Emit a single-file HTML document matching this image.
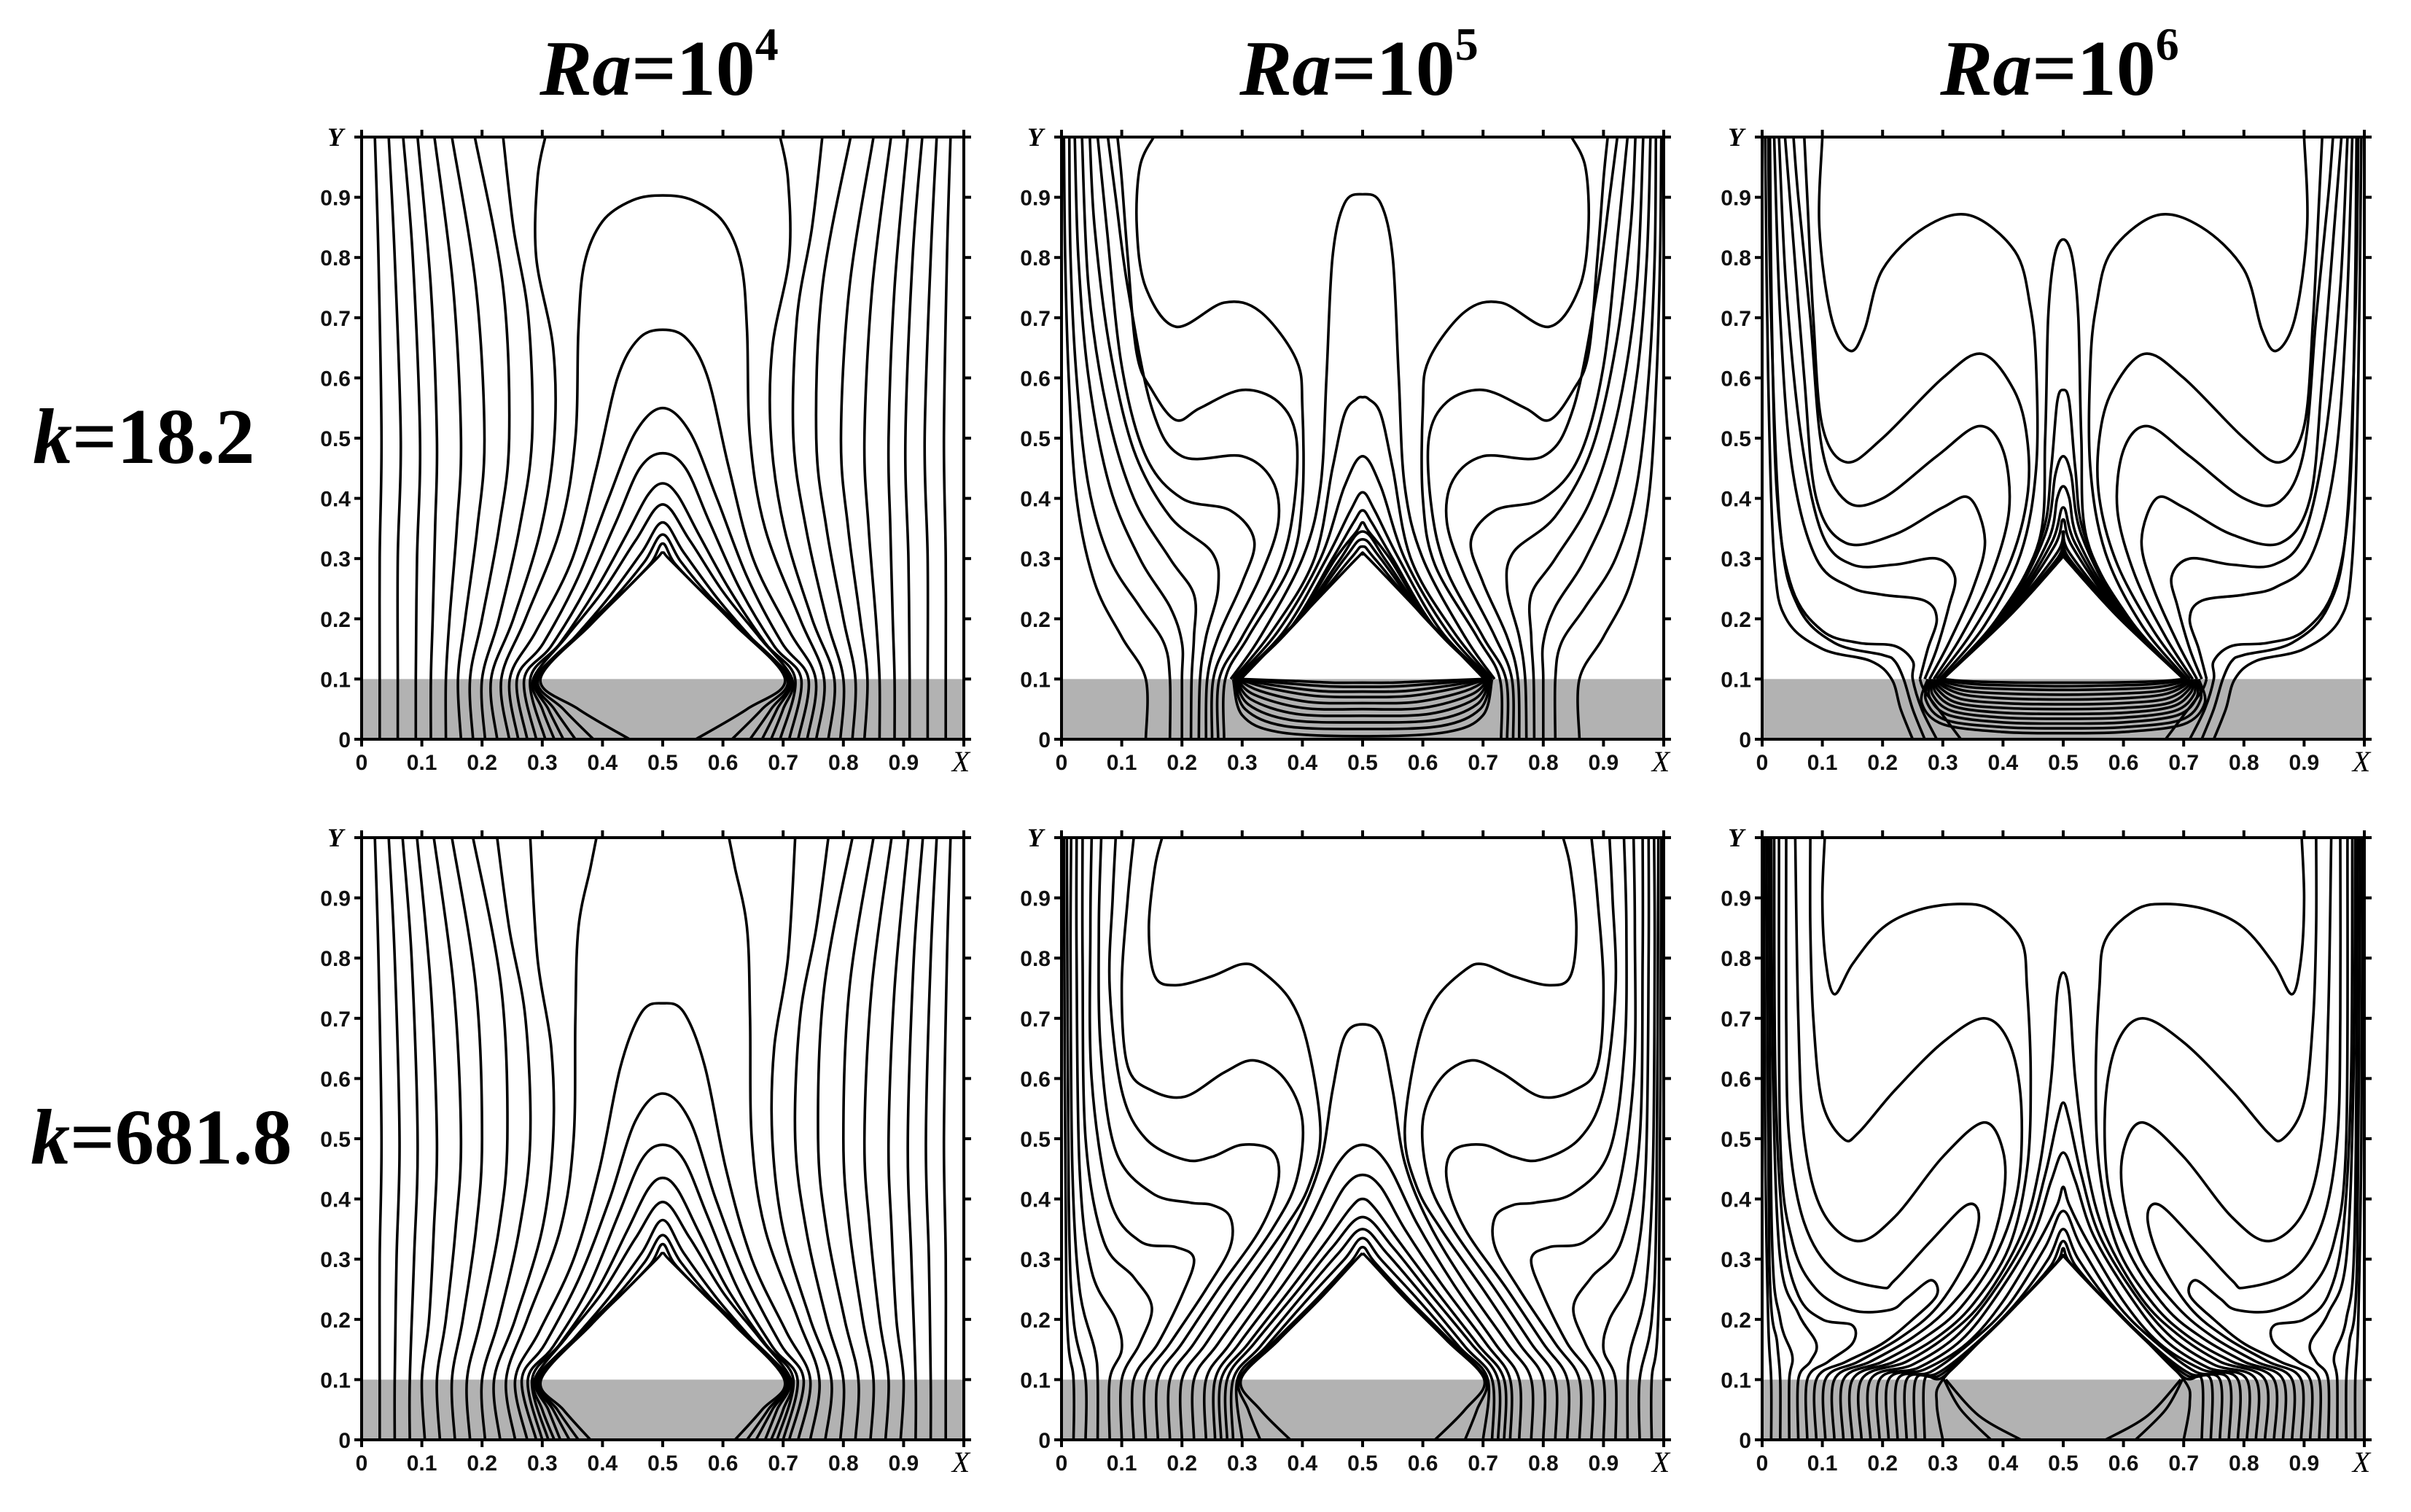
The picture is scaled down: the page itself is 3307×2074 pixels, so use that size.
<!DOCTYPE html>
<html><head><meta charset="utf-8"><title>Isotherm contours</title>
<style>html,body{margin:0;padding:0;background:#fff}svg{display:block}</style></head>
<body>
<svg id="fig" xmlns="http://www.w3.org/2000/svg" width="3307" height="2074" viewBox="0 0 3307 2074">
<rect width="3307" height="2074" fill="#fff"/>
<g font-family="Liberation Serif, serif" font-weight="bold" fill="#000">
<text x="904" y="130" font-size="108" text-anchor="middle"><tspan font-style="italic">Ra</tspan>=10<tspan font-size="64" dy="-48">4</tspan></text>
<text x="1864" y="130" font-size="108" text-anchor="middle"><tspan font-style="italic">Ra</tspan>=10<tspan font-size="64" dy="-48">5</tspan></text>
<text x="2825" y="130" font-size="108" text-anchor="middle"><tspan font-style="italic">Ra</tspan>=10<tspan font-size="64" dy="-48">6</tspan></text>
<text x="45" y="635" font-size="108"><tspan font-style="italic">k</tspan>=18.2</text>
<text x="42" y="1596" font-size="108"><tspan font-style="italic">k</tspan>=681.8</text>
</g>
<g id="panels"></g>
</svg>
<script>
// ---- data (left half of each symmetric field, data coords x,y in [0,1]) ----
const tickVals = [0,0.1,0.2,0.3,0.4,0.5,0.6,0.7,0.8,0.9];
const tickLabels = ["0","0.1","0.2","0.3","0.4","0.5","0.6","0.7","0.8","0.9"];
const solidTop = 0.1;

// Panel A: Ra=1e4, k=18.2
const sideA = [
[[0.03,0],[0.03,0.1],[0.03,0.3],[0.033,0.5],[0.028,0.8],[0.022,1]],
[[0.06,0],[0.06,0.1],[0.06,0.3],[0.065,0.5],[0.055,0.8],[0.045,1]],
[[0.09,0],[0.09,0.1],[0.092,0.3],[0.097,0.5],[0.085,0.8],[0.069,1]],
[[0.115,0],[0.115,0.1],[0.118,0.2],[0.122,0.35],[0.125,0.5],[0.115,0.75],[0.093,1]],
[[0.14,0],[0.14,0.1],[0.146,0.2],[0.158,0.35],[0.165,0.5],[0.152,0.75],[0.121,1]],
[[0.165,0],[0.16,0.1],[0.172,0.2],[0.192,0.35],[0.204,0.5],[0.19,0.75],[0.15,1]],
[[0.185,0],[0.18,0.1],[0.2,0.2],[0.228,0.35],[0.245,0.5],[0.235,0.75],[0.188,1]],
[[0.205,0],[0.2,0.1],[0.228,0.2],[0.262,0.35],[0.283,0.5],[0.277,0.7],[0.252,0.85],[0.235,1]],
[[0.225,0],[0.215,0.1],[0.252,0.2],[0.298,0.35],[0.32,0.5],[0.318,0.65],[0.29,0.8],[0.292,0.93],[0.305,1]]
];
const archA = [
[[0.245,0],[0.232,0.1],[0.272,0.2],[0.33,0.35],[0.355,0.5],[0.36,0.68],[0.37,0.79],[0.4,0.86],[0.45,0.895],[0.5,0.903]],
[[0.26,0],[0.246,0.1],[0.29,0.18],[0.35,0.3],[0.39,0.45],[0.425,0.6],[0.46,0.665],[0.5,0.68]],
[[0.275,0],[0.258,0.1],[0.302,0.16],[0.36,0.27],[0.41,0.4],[0.455,0.51],[0.5,0.55]],
[[0.29,0],[0.27,0.1],[0.315,0.155],[0.372,0.25],[0.422,0.36],[0.462,0.45],[0.5,0.475]],
[[0.305,0],[0.28,0.1],[0.33,0.16],[0.39,0.25],[0.44,0.34],[0.475,0.405],[0.5,0.425]],
[[0.32,0],[0.3,0.05],[0.285,0.1],[0.34,0.17],[0.4,0.245],[0.455,0.33],[0.5,0.39]],
[[0.335,0],[0.31,0.05],[0.288,0.1],[0.35,0.165],[0.41,0.235],[0.465,0.31],[0.5,0.36]],
[[0.355,0],[0.32,0.05],[0.29,0.1],[0.36,0.175],[0.42,0.235],[0.47,0.295],[0.5,0.34]],
[[0.385,0],[0.335,0.05],[0.293,0.1],[0.37,0.183],[0.43,0.24],[0.48,0.292],[0.5,0.325]],
[[0.445,0],[0.36,0.05],[0.297,0.1],[0.38,0.19],[0.44,0.25],[0.49,0.3],[0.5,0.31]]
];

// Panel B: Ra=1e5, k=18.2
const sideB = [
[[0.14,0],[0.14,0.1],[0.1,0.17],[0.055,0.26],[0.025,0.4],[0.012,0.6],[0.006,0.8],[0.004,1]],
[[0.18,0],[0.18,0.1],[0.17,0.16],[0.13,0.22],[0.08,0.3],[0.045,0.42],[0.025,0.6],[0.015,0.8],[0.013,1]],
[[0.2,0],[0.2,0.1],[0.2,0.16],[0.18,0.22],[0.13,0.3],[0.08,0.42],[0.045,0.6],[0.028,0.8],[0.022,1]],
[[0.215,0],[0.216,0.1],[0.22,0.17],[0.22,0.24],[0.18,0.3],[0.12,0.4],[0.075,0.55],[0.045,0.75],[0.034,1]],
[[0.228,0],[0.23,0.1],[0.24,0.17],[0.26,0.25],[0.25,0.31],[0.18,0.37],[0.12,0.48],[0.08,0.65],[0.055,0.85],[0.047,1]],
[[0.24,0],[0.242,0.1],[0.26,0.17],[0.3,0.26],[0.32,0.33],[0.28,0.38],[0.2,0.4],[0.14,0.47],[0.1,0.62],[0.075,0.85],[0.06,1]],
[[0.25,0],[0.252,0.1],[0.28,0.17],[0.33,0.27],[0.36,0.36],[0.35,0.43],[0.3,0.47],[0.2,0.47],[0.15,0.55],[0.11,0.75],[0.09,0.9],[0.077,1]],
[[0.26,0],[0.262,0.1],[0.3,0.17],[0.36,0.28],[0.385,0.38],[0.39,0.5],[0.36,0.56],[0.3,0.58],[0.23,0.55],[0.19,0.53],[0.15,0.58],[0.125,0.64],[0.11,0.8],[0.1,0.93],[0.093,1]],
[[0.27,0],[0.272,0.1],[0.31,0.17],[0.38,0.29],[0.4,0.4],[0.4,0.55],[0.39,0.63],[0.33,0.71],[0.27,0.725],[0.19,0.685],[0.14,0.75],[0.125,0.85],[0.13,0.95],[0.153,1]]
];
const archB = [
[[0.281,0.1],[0.33,0.17],[0.4,0.3],[0.43,0.42],[0.44,0.6],[0.45,0.8],[0.47,0.89],[0.5,0.905]],
[[0.285,0.1],[0.35,0.18],[0.42,0.3],[0.45,0.45],[0.47,0.54],[0.49,0.565],[0.5,0.568]],
[[0.288,0.1],[0.36,0.18],[0.43,0.3],[0.47,0.42],[0.5,0.47]],
[[0.29,0.1],[0.37,0.18],[0.44,0.3],[0.48,0.38],[0.5,0.41]],
[[0.291,0.1],[0.38,0.185],[0.45,0.3],[0.485,0.36],[0.5,0.38]],
[[0.292,0.1],[0.385,0.19],[0.455,0.3],[0.49,0.345],[0.5,0.36]],
[[0.293,0.1],[0.39,0.195],[0.46,0.295],[0.5,0.345]],
[[0.294,0.1],[0.395,0.2],[0.47,0.3],[0.5,0.332]],
[[0.296,0.1],[0.4,0.205],[0.48,0.3],[0.5,0.32]],
[[0.298,0.1],[0.4,0.206],[0.49,0.3],[0.5,0.307]],
[[0.285,0.1],[0.3,0.04],[0.36,0.012],[0.5,0.005]],
[[0.287,0.1],[0.305,0.05],[0.37,0.022],[0.5,0.017]],
[[0.289,0.1],[0.31,0.058],[0.38,0.032],[0.5,0.028]],
[[0.29,0.1],[0.315,0.066],[0.39,0.042],[0.5,0.039]],
[[0.291,0.1],[0.32,0.074],[0.4,0.052],[0.5,0.05]],
[[0.292,0.1],[0.33,0.08],[0.41,0.062],[0.5,0.06]],
[[0.294,0.1],[0.34,0.086],[0.42,0.072],[0.5,0.07]],
[[0.296,0.1],[0.35,0.09],[0.43,0.08],[0.5,0.079]],
[[0.298,0.1],[0.36,0.094],[0.44,0.088],[0.5,0.087]],
[[0.3,0.1],[0.38,0.097],[0.45,0.094],[0.5,0.094]]
];

// Panel C: Ra=1e6, k=18.2
const sideC = [
[[0.25,0],[0.23,0.05],[0.215,0.1],[0.18,0.13],[0.1,0.15],[0.04,0.2],[0.02,0.3],[0.01,0.6],[0.005,1]],
[[0.27,0],[0.25,0.05],[0.235,0.1],[0.22,0.13],[0.2,0.14],[0.12,0.16],[0.06,0.22],[0.03,0.35],[0.015,0.7],[0.01,1]],
[[0.29,0],[0.265,0.05],[0.25,0.1],[0.25,0.13],[0.22,0.155],[0.16,0.16],[0.1,0.18],[0.05,0.25],[0.025,0.4],[0.016,0.7],[0.013,1]],
[[0.262,0.1],[0.275,0.15],[0.29,0.2],[0.27,0.23],[0.2,0.24],[0.146,0.253],[0.09,0.3],[0.05,0.45],[0.03,0.7],[0.02,1]],
[[0.27,0.1],[0.29,0.15],[0.31,0.22],[0.32,0.27],[0.29,0.3],[0.22,0.29],[0.15,0.29],[0.1,0.34],[0.065,0.5],[0.04,0.75],[0.028,1]],
[[0.278,0.1],[0.31,0.16],[0.35,0.25],[0.37,0.33],[0.345,0.4],[0.3,0.385],[0.22,0.34],[0.139,0.326],[0.09,0.4],[0.07,0.6],[0.05,0.85],[0.038,1]],
[[0.285,0.1],[0.33,0.17],[0.38,0.27],[0.41,0.38],[0.4,0.48],[0.36,0.52],[0.29,0.47],[0.2,0.4],[0.14,0.395],[0.1,0.48],[0.08,0.7],[0.06,0.9],[0.052,1]],
[[0.29,0.1],[0.35,0.18],[0.41,0.29],[0.44,0.4],[0.44,0.5],[0.418,0.58],[0.365,0.64],[0.3,0.6],[0.2,0.5],[0.14,0.46],[0.1,0.52],[0.085,0.7],[0.075,0.9],[0.07,1]],
[[0.295,0.1],[0.37,0.19],[0.43,0.31],[0.455,0.45],[0.455,0.62],[0.445,0.72],[0.42,0.81],[0.345,0.87],[0.27,0.85],[0.2,0.78],[0.17,0.68],[0.146,0.645],[0.115,0.7],[0.095,0.85],[0.1,1]],
[[0.33,0],[0.3,0.04],[0.27,0.08],[0.262,0.1]]
];
const archC = [
[[0.3,0.1],[0.39,0.2],[0.46,0.33],[0.47,0.5],[0.475,0.7],[0.485,0.8],[0.5,0.83]],
[[0.3,0.1],[0.4,0.21],[0.465,0.34],[0.48,0.45],[0.49,0.56],[0.5,0.58]],
[[0.3,0.1],[0.405,0.215],[0.47,0.34],[0.487,0.44],[0.5,0.47]],
[[0.3,0.1],[0.41,0.22],[0.475,0.33],[0.49,0.4],[0.5,0.42]],
[[0.3,0.1],[0.41,0.215],[0.48,0.325],[0.5,0.385]],
[[0.3,0.1],[0.41,0.212],[0.485,0.32],[0.5,0.365]],
[[0.3,0.1],[0.41,0.21],[0.49,0.31],[0.5,0.345]],
[[0.3,0.1],[0.41,0.208],[0.49,0.3],[0.5,0.33]],
[[0.3,0.1],[0.41,0.206],[0.49,0.296],[0.5,0.318]],
[[0.3,0.1],[0.41,0.204],[0.495,0.298],[0.5,0.306]],
[[0.275,0.1],[0.265,0.06],[0.3,0.025],[0.4,0.012],[0.5,0.01]],
[[0.278,0.1],[0.272,0.065],[0.305,0.032],[0.4,0.02],[0.5,0.018]],
[[0.281,0.1],[0.278,0.07],[0.31,0.04],[0.4,0.028],[0.5,0.026]],
[[0.284,0.1],[0.283,0.074],[0.315,0.047],[0.4,0.036],[0.5,0.034]],
[[0.286,0.1],[0.288,0.078],[0.32,0.054],[0.4,0.044],[0.5,0.042]],
[[0.288,0.1],[0.292,0.082],[0.325,0.06],[0.4,0.052],[0.5,0.05]],
[[0.29,0.1],[0.296,0.085],[0.33,0.067],[0.4,0.06],[0.5,0.058]],
[[0.292,0.1],[0.3,0.088],[0.335,0.074],[0.4,0.068],[0.5,0.066]],
[[0.294,0.1],[0.305,0.09],[0.34,0.08],[0.4,0.076],[0.5,0.074]],
[[0.296,0.1],[0.31,0.093],[0.35,0.086],[0.42,0.083],[0.5,0.082]],
[[0.298,0.1],[0.32,0.095],[0.36,0.091],[0.43,0.089],[0.5,0.088]],
[[0.3,0.1],[0.33,0.097],[0.38,0.095],[0.44,0.094],[0.5,0.094]]
];

// Panel D: Ra=1e4, k=681.8
const sideD = [
[[0.03,0],[0.03,0.1],[0.03,0.3],[0.033,0.5],[0.028,0.8],[0.022,1]],
[[0.055,0],[0.055,0.1],[0.058,0.3],[0.063,0.5],[0.055,0.8],[0.045,1]],
[[0.08,0],[0.08,0.1],[0.087,0.3],[0.093,0.5],[0.083,0.8],[0.068,1]],
[[0.105,0],[0.1,0.1],[0.112,0.2],[0.12,0.35],[0.125,0.5],[0.115,0.75],[0.092,1]],
[[0.13,0],[0.125,0.1],[0.14,0.2],[0.156,0.35],[0.165,0.5],[0.153,0.75],[0.12,1]],
[[0.155,0],[0.15,0.1],[0.168,0.2],[0.19,0.35],[0.2,0.5],[0.19,0.75],[0.15,1]],
[[0.18,0],[0.175,0.1],[0.198,0.2],[0.228,0.35],[0.242,0.5],[0.232,0.75],[0.185,1]],
[[0.205,0],[0.2,0.1],[0.228,0.2],[0.262,0.35],[0.28,0.5],[0.272,0.7],[0.245,0.85],[0.225,1]],
[[0.23,0],[0.22,0.1],[0.255,0.2],[0.3,0.35],[0.318,0.5],[0.315,0.65],[0.292,0.8],[0.28,1]],
[[0.255,0],[0.24,0.1],[0.275,0.2],[0.33,0.35],[0.352,0.5],[0.355,0.7],[0.36,0.85],[0.38,0.95],[0.39,1]]
];
const archD = [
[[0.275,0],[0.255,0.1],[0.295,0.18],[0.352,0.3],[0.395,0.45],[0.43,0.62],[0.465,0.71],[0.5,0.725]],
[[0.29,0],[0.266,0.1],[0.305,0.16],[0.362,0.27],[0.412,0.4],[0.455,0.53],[0.5,0.575]],
[[0.3,0],[0.276,0.1],[0.318,0.155],[0.375,0.25],[0.425,0.37],[0.465,0.465],[0.5,0.49]],
[[0.31,0],[0.283,0.1],[0.33,0.16],[0.392,0.25],[0.44,0.345],[0.475,0.415],[0.5,0.435]],
[[0.32,0],[0.3,0.05],[0.287,0.1],[0.34,0.17],[0.4,0.245],[0.455,0.335],[0.5,0.395]],
[[0.33,0],[0.31,0.05],[0.29,0.1],[0.35,0.165],[0.41,0.235],[0.465,0.31],[0.5,0.365]],
[[0.345,0],[0.318,0.05],[0.292,0.1],[0.36,0.175],[0.42,0.235],[0.47,0.295],[0.5,0.34]],
[[0.36,0],[0.325,0.05],[0.295,0.1],[0.37,0.183],[0.43,0.24],[0.48,0.292],[0.5,0.325]],
[[0.38,0],[0.335,0.05],[0.298,0.1],[0.38,0.19],[0.44,0.25],[0.49,0.3],[0.5,0.31]]
];

// Panel E: Ra=1e5, k=681.8
const sideE = [
[[0.02,0],[0.02,0.1],[0.008,0.25],[0.004,1]],
[[0.04,0],[0.04,0.1],[0.02,0.2],[0.012,0.4],[0.009,1]],
[[0.06,0],[0.06,0.1],[0.055,0.15],[0.03,0.25],[0.018,0.45],[0.015,0.8],[0.016,1]],
[[0.08,0],[0.08,0.1],[0.1,0.15],[0.09,0.2],[0.05,0.28],[0.03,0.45],[0.025,0.8],[0.025,1]],
[[0.1,0],[0.1,0.1],[0.13,0.16],[0.15,0.22],[0.12,0.27],[0.07,0.33],[0.04,0.5],[0.035,0.8],[0.035,1]],
[[0.12,0],[0.12,0.1],[0.16,0.16],[0.2,0.24],[0.22,0.3],[0.19,0.32],[0.13,0.33],[0.08,0.4],[0.05,0.6],[0.048,0.85],[0.05,1]],
[[0.14,0],[0.14,0.1],[0.18,0.16],[0.24,0.25],[0.28,0.32],[0.28,0.37],[0.25,0.39],[0.213,0.394],[0.15,0.41],[0.09,0.48],[0.065,0.65],[0.062,0.85],[0.066,1]],
[[0.16,0],[0.16,0.1],[0.2,0.16],[0.26,0.25],[0.33,0.35],[0.36,0.43],[0.35,0.48],[0.3,0.49],[0.25,0.47],[0.205,0.465],[0.14,0.5],[0.1,0.58],[0.08,0.75],[0.085,0.9],[0.09,1]],
[[0.18,0],[0.18,0.1],[0.22,0.16],[0.28,0.25],[0.35,0.35],[0.39,0.43],[0.4,0.53],[0.37,0.6],[0.32,0.63],[0.27,0.61],[0.205,0.57],[0.15,0.58],[0.11,0.62],[0.1,0.75],[0.11,0.9],[0.12,1]],
[[0.2,0],[0.2,0.1],[0.24,0.16],[0.3,0.25],[0.37,0.35],[0.41,0.42],[0.43,0.51],[0.41,0.65],[0.38,0.73],[0.33,0.78],[0.3,0.79],[0.25,0.77],[0.19,0.755],[0.155,0.77],[0.145,0.85],[0.155,0.95],[0.167,1]]
];
const archE = [
[[0.22,0],[0.22,0.1],[0.26,0.16],[0.33,0.26],[0.39,0.36],[0.43,0.46],[0.45,0.58],[0.47,0.67],[0.5,0.69]],
[[0.24,0],[0.24,0.1],[0.28,0.16],[0.35,0.26],[0.41,0.36],[0.46,0.46],[0.5,0.49]],
[[0.255,0],[0.255,0.1],[0.295,0.16],[0.37,0.26],[0.43,0.35],[0.47,0.42],[0.5,0.44]],
[[0.265,0],[0.265,0.1],[0.31,0.16],[0.38,0.25],[0.44,0.33],[0.48,0.385],[0.5,0.4]],
[[0.275,0],[0.275,0.1],[0.32,0.16],[0.39,0.245],[0.45,0.32],[0.5,0.37]],
[[0.285,0],[0.285,0.1],[0.33,0.155],[0.4,0.24],[0.46,0.31],[0.5,0.35]],
[[0.3,0],[0.292,0.1],[0.34,0.155],[0.41,0.235],[0.47,0.3],[0.5,0.335]],
[[0.33,0],[0.31,0.05],[0.295,0.1],[0.35,0.16],[0.42,0.23],[0.48,0.295],[0.5,0.32]],
[[0.38,0],[0.33,0.05],[0.298,0.1],[0.36,0.165],[0.43,0.235],[0.49,0.3],[0.5,0.308]]
];

// Panel F: Ra=1e6, k=681.8
const sideF = [
[[0.015,0],[0.015,0.1],[0.01,0.2],[0.005,0.5],[0.003,1]],
[[0.03,0],[0.03,0.1],[0.025,0.16],[0.012,0.3],[0.007,1]],
[[0.045,0],[0.045,0.1],[0.05,0.14],[0.03,0.2],[0.016,0.35],[0.011,1]],
[[0.06,0],[0.06,0.1],[0.08,0.13],[0.09,0.16],[0.06,0.21],[0.03,0.3],[0.018,0.6],[0.015,1]],
[[0.075,0],[0.075,0.1],[0.11,0.13],[0.15,0.16],[0.15,0.19],[0.1,0.2],[0.06,0.24],[0.035,0.35],[0.022,0.6],[0.02,1]],
[[0.09,0],[0.09,0.1],[0.14,0.13],[0.2,0.16],[0.25,0.2],[0.29,0.24],[0.28,0.265],[0.24,0.235],[0.213,0.216],[0.15,0.215],[0.09,0.25],[0.05,0.33],[0.03,0.5],[0.028,1]],
[[0.105,0],[0.105,0.1],[0.16,0.13],[0.23,0.17],[0.29,0.22],[0.34,0.3],[0.36,0.37],[0.34,0.39],[0.28,0.33],[0.22,0.265],[0.197,0.253],[0.12,0.28],[0.07,0.36],[0.045,0.5],[0.04,0.7],[0.04,1]],
[[0.12,0],[0.12,0.1],[0.18,0.13],[0.25,0.17],[0.31,0.22],[0.37,0.3],[0.4,0.4],[0.4,0.48],[0.368,0.527],[0.3,0.47],[0.22,0.37],[0.158,0.33],[0.1,0.38],[0.07,0.5],[0.06,0.7],[0.055,1]],
[[0.135,0],[0.135,0.1],[0.2,0.13],[0.27,0.17],[0.33,0.22],[0.39,0.31],[0.425,0.42],[0.43,0.56],[0.41,0.66],[0.368,0.7],[0.3,0.66],[0.22,0.58],[0.16,0.51],[0.135,0.5],[0.1,0.56],[0.085,0.7],[0.08,0.85],[0.08,1]],
[[0.15,0],[0.15,0.1],[0.22,0.13],[0.29,0.17],[0.35,0.225],[0.41,0.32],[0.44,0.45],[0.446,0.6],[0.44,0.75],[0.43,0.83],[0.38,0.88],[0.33,0.89],[0.26,0.88],[0.2,0.85],[0.15,0.79],[0.12,0.74],[0.105,0.8],[0.1,0.9],[0.104,1]],
[[0.43,0],[0.36,0.04],[0.305,0.1]],
[[0.38,0],[0.33,0.05],[0.302,0.1]]
];
const archF = [
[[0.165,0],[0.165,0.1],[0.24,0.13],[0.31,0.175],[0.37,0.235],[0.43,0.34],[0.46,0.45],[0.48,0.6],[0.49,0.74],[0.5,0.776]],
[[0.18,0],[0.18,0.1],[0.25,0.125],[0.32,0.17],[0.38,0.24],[0.44,0.34],[0.47,0.44],[0.49,0.53],[0.5,0.56]],
[[0.195,0],[0.195,0.1],[0.26,0.12],[0.33,0.165],[0.39,0.24],[0.45,0.34],[0.48,0.43],[0.5,0.477]],
[[0.21,0],[0.21,0.1],[0.27,0.117],[0.34,0.16],[0.4,0.23],[0.46,0.33],[0.49,0.39],[0.5,0.42]],
[[0.225,0],[0.225,0.1],[0.28,0.113],[0.35,0.165],[0.41,0.225],[0.47,0.32],[0.5,0.38]],
[[0.24,0],[0.24,0.1],[0.29,0.11],[0.355,0.16],[0.42,0.225],[0.475,0.3],[0.5,0.35]],
[[0.255,0],[0.255,0.1],[0.295,0.107],[0.36,0.162],[0.43,0.232],[0.48,0.29],[0.5,0.33]],
[[0.27,0],[0.27,0.1],[0.3,0.104],[0.37,0.172],[0.44,0.242],[0.49,0.296],[0.5,0.318]],
[[0.3,0],[0.29,0.06],[0.3,0.1],[0.38,0.182],[0.45,0.252],[0.495,0.3],[0.5,0.306]]
];

// ---- layout ----
const PW = 826, PH = 826;
const panelDefs = [
 {name:"panel-ra1e4-k18-2", x0:496, y0:188, side:sideA, arch:archA},
 {name:"panel-ra1e5-k18-2", x0:1456, y0:188, side:sideB, arch:archB},
 {name:"panel-ra1e6-k18-2", x0:2417, y0:188, side:sideC, arch:archC},
 {name:"panel-ra1e4-k681-8", x0:496, y0:1149, side:sideD, arch:archD},
 {name:"panel-ra1e5-k681-8", x0:1456, y0:1149, side:sideE, arch:archE},
 {name:"panel-ra1e6-k681-8", x0:2417, y0:1149, side:sideF, arch:archF}
];
const NS = "http://www.w3.org/2000/svg";
function mk(tag, attrs){const e=document.createElementNS(NS,tag);for(const k in attrs)e.setAttribute(k,attrs[k]);return e;}
function crPath(pts){
  if(pts.length<2) return "";
  let d="M"+pts[0][0].toFixed(1)+","+pts[0][1].toFixed(1);
  for(let i=0;i<pts.length-1;i++){
    const p0=pts[i-1]||pts[i], p1=pts[i], p2=pts[i+1], p3=pts[i+2]||p2;
    const c1=[p1[0]+(p2[0]-p0[0])/6, p1[1]+(p2[1]-p0[1])/6];
    const c2=[p2[0]-(p3[0]-p1[0])/6, p2[1]-(p3[1]-p1[1])/6];
    d+="C"+c1[0].toFixed(1)+","+c1[1].toFixed(1)+" "+c2[0].toFixed(1)+","+c2[1].toFixed(1)+" "+p2[0].toFixed(1)+","+p2[1].toFixed(1);
  }
  return d;
}
const root=document.getElementById("panels");
panelDefs.forEach((P,pi)=>{
  const sx=x=>P.x0+x*PW, sy=y=>P.y0+(1-y)*PH;
  const g=mk("g",{});
  
  
  root.appendChild(g);
  const cp=mk("clipPath",{id:"clip"+pi});
  cp.appendChild(mk("rect",{x:P.x0,y:P.y0,width:PW,height:PH}));
  g.appendChild(cp);
  const solid=mk("rect",{x:sx(0),y:sy(solidTop),width:PW,height:sy(0)-sy(solidTop),fill:"#b2b2b2"});
  
  
  g.appendChild(solid);
  const lg=mk("g",{"clip-path":"url(#clip"+pi+")",fill:"none",stroke:"#000","stroke-width":"3.6","stroke-linejoin":"round"});
  g.appendChild(lg);
  const toS=pts=>pts.map(p=>[sx(p[0]),sy(p[1])]);
  P.side.forEach((line,li)=>{
    [line, line.map(p=>[1-p[0],p[1]])].forEach((pts,side)=>{
      const path=mk("path",{d:crPath(toS(pts))});
      
      
      lg.appendChild(path);
    });
  });
  P.arch.forEach((line,li)=>{
    const last=line[line.length-1];
    const mir=line.slice(0, last[0]>=0.5?-1:line.length).reverse().map(p=>[1-p[0],p[1]]);
    const pts=line.concat(mir);
    const path=mk("path",{d:crPath(toS(pts))});
    
    
    lg.appendChild(path);
  });
  const fr=mk("rect",{x:P.x0,y:P.y0,width:PW,height:PH,fill:"none",stroke:"#000","stroke-width":"4"});
  
  
  g.appendChild(fr);
  const tk=mk("g",{stroke:"#000","stroke-width":"4"});
  g.appendChild(tk);
  for(let i=0;i<=10;i++){
    const v=i/10;
    tk.appendChild(mk("line",{x1:sx(v),y1:sy(0),x2:sx(v),y2:sy(0)+10}));
    tk.appendChild(mk("line",{x1:sx(v),y1:sy(1),x2:sx(v),y2:sy(1)-10}));
    tk.appendChild(mk("line",{x1:sx(0),y1:sy(v),x2:sx(0)-10,y2:sy(v)}));
    tk.appendChild(mk("line",{x1:sx(1),y1:sy(v),x2:sx(1)+10,y2:sy(v)}));
  }
  const tg=mk("g",{"font-family":"Liberation Sans, sans-serif","font-weight":"bold","font-size":"30",fill:"#111"});
  g.appendChild(tg);
  tickVals.forEach((v,i)=>{
    const tx=mk("text",{x:sx(v),y:sy(0)+42,"text-anchor":"middle"});
    tx.textContent=tickLabels[i];
    
    
    tg.appendChild(tx);
    const ty=mk("text",{x:sx(0)-15,y:sy(v)+11,"text-anchor":"end"});
    ty.textContent=tickLabels[i];
    
    
    tg.appendChild(ty);
  });
  const xl=mk("text",{x:sx(1)-4,y:sy(0)+44,"text-anchor":"middle","font-family":"Liberation Serif, serif","font-style":"italic","font-size":"40"});
  xl.textContent="X";
  
  
  g.appendChild(xl);
  const yl=mk("text",{x:sx(0)-36,y:sy(1)+12,"text-anchor":"middle","font-family":"Liberation Serif, serif","font-style":"italic","font-weight":"bold","font-size":"36"});
  yl.textContent="Y";
  
  
  g.appendChild(yl);
});
</script>
</body></html>
